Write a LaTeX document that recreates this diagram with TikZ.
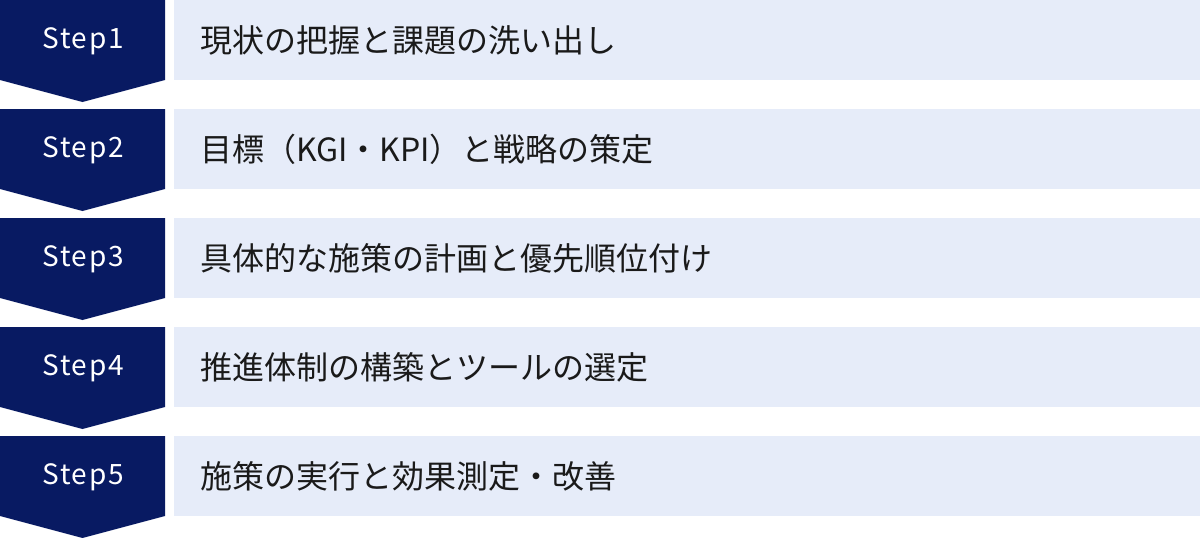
\documentclass[tikz,border=0pt]{standalone}
\usepackage{fontspec}
\setmainfont{Noto Sans CJK JP}
\newfontfamily\stepfont[LetterSpace=6]{Noto Sans CJK JP}
\definecolor{navy}{HTML}{081A62}
\definecolor{pale}{HTML}{E6ECF9}
\definecolor{ink}{HTML}{1A1A1A}
\tikzset{
  stepshape/.style={fill=navy},
  bar/.style={fill=pale},
  steplabel/.style={text=white, inner sep=0pt, font=\stepfont\fontsize{28}{32}\selectfont},
  bartext/.style={text=ink, anchor=west, inner sep=0pt, font=\fontsize{32}{38}\selectfont}
}
\begin{document}
\begin{tikzpicture}[x=1pt,y=-1pt]
\useasboundingbox (0,0) rectangle (1200,538);
\foreach \i/\t in {0/現状の把握と課題の洗い出し,1/目標（KGI・KPI）と戦略の策定,2/具体的な施策の計画と優先順位付け,3/推進体制の構築とツールの選定,4/施策の実行と効果測定・改善}{
  \pgfmathsetmacro{\top}{109*\i}
  \pgfmathtruncatemacro{\n}{\i+1}
  \fill[stepshape] (0,\top) -- (165,\top) -- (165,\top+80) -- (82.5,\top+102) -- (0,\top+80) -- cycle;
  \fill[bar] (174,\top) rectangle (1200,\top+80);
  \node[steplabel] (s\n) at (83,\top+41) {Step\n};
  \node[bartext] (t\n) at (200,\top+40) {\t};
}
\end{tikzpicture}
\end{document}
